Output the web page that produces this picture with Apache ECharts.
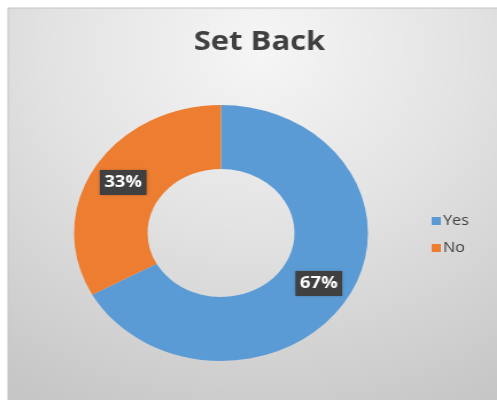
<!DOCTYPE html>
<html>
<head>
<meta charset="utf-8">
<script src="https://cdn.jsdelivr.net/npm/echarts@6/dist/echarts.min.js"></script>
<style>
  html, body { margin: 0; padding: 0; background: #fff; }
  #wrap { width: 497px; height: 400px; overflow: hidden; position: relative; }
  /* the source chart is stretched sideways, so draw narrow and scale */
  #chart { width: 433px; height: 400px; transform: scaleX(1.148); transform-origin: 0 0; }
</style>
</head>
<body>
<div id="wrap"><div id="chart"></div></div>
<script>
var categories = ['Yes', 'No'];
var values = [67, 33];
var colors = ['#5B9BD5', '#ED7D31'];

var chart = echarts.init(document.getElementById('chart'));

var seriesData = categories.map(function (name, i) {
    return { name: name, value: values[i] };
});

chart.setOption({
    animation: false,
    color: colors,
    graphic: [
        {
            type: 'rect',
            z: -10,
            shape: { x: 7, y: 8, width: 440, height: 400 },
            style: {
                fill: {
                    type: 'radial', x: 0.5, y: 0.1, r: 1,
                    colorStops: [
                        { offset: 0, color: '#f6f6f6' },
                        { offset: 0.45, color: '#e3e3e3' },
                        { offset: 1, color: '#c6c6c6' }
                    ]
                },
                stroke: '#c4c4c4',
                lineWidth: 1
            }
        }
    ],
    title: {
        text: 'Set Back',
        left: 221,
        top: 24,
        textAlign: 'center',
        textStyle: {
            fontFamily: 'Open Sans',
            fontSize: 27,
            fontWeight: 'bold',
            color: '#404040'
        }
    },
    legend: {
        orient: 'vertical',
        left: 371,
        top: 209,
        itemWidth: 8,
        itemHeight: 8,
        itemGap: 13,
        icon: 'rect',
        data: categories,
        textStyle: { fontFamily: 'Open Sans', fontSize: 14, color: '#404040', padding: [0, 0, 0, -3] }
    },
    series: [
        {
            type: 'pie',
            center: [192.5, 233],
            radius: [64, 128],
            startAngle: 90,
            clockwise: true,
            label: {
                show: true,
                position: 'inside',
                formatter: '{d}%',
                fontFamily: 'Open Sans',
                fontSize: 16,
                fontWeight: 'bold',
                color: '#fff',
                backgroundColor: '#404040',
                padding: [5, 4, 4, 4],
                shadowColor: 'rgba(0,0,0,0.3)',
                shadowBlur: 3
            },
            labelLine: { show: false },
            itemStyle: { borderColor: '#ffffff', borderWidth: 0 },
            data: seriesData
        }
    ]
});
</script>
</body>
</html>
